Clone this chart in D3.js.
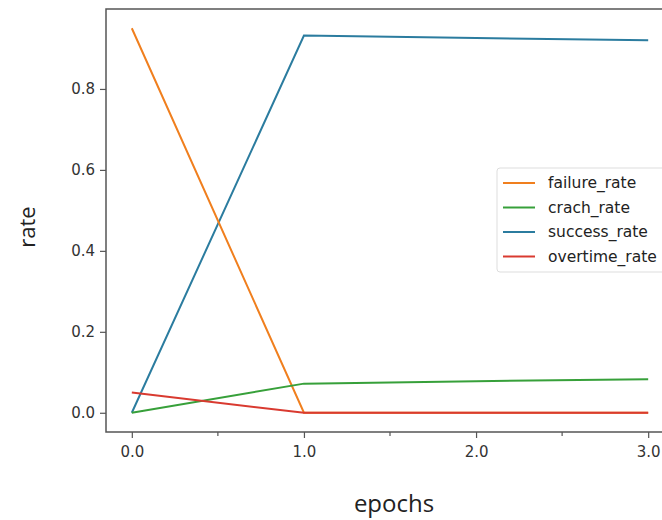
<!DOCTYPE html>
<html>
<head>
<meta charset="utf-8">
<script src="https://cdn.jsdelivr.net/npm/d3@7"></script>
<style>
  body { margin: 0; background: #fff; }
  svg { display: block; }
</style>
</head>
<body>
<div id="chart"></div>
<script>
// data
const epochs = [0, 1, 2, 3];
const failureRate = [0.95, 0.0, 0.0, 0.0];
const crachRate = [0.0, 0.072, 0.078, 0.083];
const successRate = [0.0, 0.932, 0.926, 0.92];
const overtimeRate = [0.05, 0.0, 0.0, 0.0];
const seriesNames = ["failure_rate", "crach_rate", "success_rate", "overtime_rate"];
const seriesColors = ["#f07f1e", "#37a03a", "#2b7c9f", "#d93a30"];
const xTicks = [0, 1, 2, 3];
const xMinorTicks = [0.5, 1.5, 2.5];
const yTicks = [0, 0.2, 0.4, 0.6, 0.8];

const width = 662, height = 520;
const plot = { left: 106, right: 674, top: 9, bottom: 432 };

const svg = d3.select("#chart").append("svg")
    .attr("width", width)
    .attr("height", height)
    .style("font-family", "'DejaVu Sans', sans-serif");

// matplotlib style 5% margins
const x = d3.scaleLinear().domain([-0.15, 3.15]).range([plot.left, plot.right]);
const y = d3.scaleLinear().domain([-0.0475, 0.9975]).range([plot.bottom, plot.top]);

const axisColor = "#555";

// x axis
let xAxis = svg.append("g")
    .attr("transform", "translate(0," + plot.bottom + ")")
    .call(d3.axisBottom(x).tickValues(xTicks).tickFormat(d3.format(".1f")).tickSize(6).tickPadding(8));
xAxis.attr("font-family", "'DejaVu Sans', sans-serif");
xAxis.select(".domain").remove();
xAxis.selectAll(".tick line").attr("stroke", axisColor).attr("stroke-width", 1.2);
xAxis.selectAll("text").attr("fill", "#333").style("font-size", "15px");

svg.append("g")
    .attr("transform", "translate(0," + plot.bottom + ")")
    .selectAll("line").data(xMinorTicks).join("line")
    .attr("x1", d => x(d)).attr("x2", d => x(d))
    .attr("y1", 0).attr("y2", 4)
    .attr("stroke", axisColor).attr("stroke-width", 1.2);

// y axis
let yAxis = svg.append("g")
    .attr("transform", "translate(" + plot.left + ",0)")
    .call(d3.axisLeft(y).tickValues(yTicks).tickFormat(d3.format(".1f")).tickSize(6).tickPadding(5));
yAxis.attr("font-family", "'DejaVu Sans', sans-serif");
yAxis.select(".domain").remove();
yAxis.selectAll(".tick line").attr("stroke", axisColor).attr("stroke-width", 1.2);
yAxis.selectAll("text").attr("fill", "#333").style("font-size", "15px");

// spines (right one falls outside the window)
svg.append("path")
    .attr("d", "M" + plot.right + "," + plot.top + "H" + plot.left + "V" + plot.bottom + "H" + plot.right)
    .attr("fill", "none")
    .attr("stroke", axisColor)
    .attr("stroke-width", 1.5);

// lines
const allSeries = [failureRate, crachRate, successRate, overtimeRate];
const line = d3.line()
    .x((d, i) => x(epochs[i]))
    .y(d => y(d));

// draw order as in the picture: success under crach/overtime
const drawOrder = [2, 0, 1, 3];
svg.append("g").selectAll("path").data(drawOrder).join("path")
    .attr("d", i => line(allSeries[i]))
    .attr("fill", "none")
    .attr("stroke", i => seriesColors[i])
    .attr("stroke-width", 2);

// legend
const legend = svg.append("g").attr("transform", "translate(497,168)");
legend.append("rect")
    .attr("width", 170).attr("height", 104)
    .attr("rx", 3)
    .attr("fill", "#fff")
    .attr("stroke", "#ddd");

const items = legend.selectAll("g.item").data(seriesNames).join("g")
    .attr("class", "item")
    .attr("transform", (d, i) => "translate(0," + (15 + i * 24.5) + ")");
items.append("line")
    .attr("x1", 6).attr("x2", 38)
    .attr("stroke", (d, i) => seriesColors[i])
    .attr("stroke-width", 2);
items.append("text")
    .attr("x", 51).attr("dy", "0.35em")
    .attr("fill", "#222")
    .style("font-size", "15.5px")
    .text(d => d);

// axis titles
svg.append("text")
    .attr("transform", "translate(35,227) rotate(-90)")
    .attr("text-anchor", "middle")
    .style("font-family", "'Open Sans', sans-serif")
    .style("font-size", "22px")
    .attr("fill", "#222")
    .text("rate");

svg.append("text")
    .attr("x", 394).attr("y", 512)
    .attr("text-anchor", "middle")
    .style("font-family", "'Open Sans', sans-serif")
    .style("font-size", "24px")
    .attr("fill", "#222")
    .text("epochs");
</script>
</body>
</html>
